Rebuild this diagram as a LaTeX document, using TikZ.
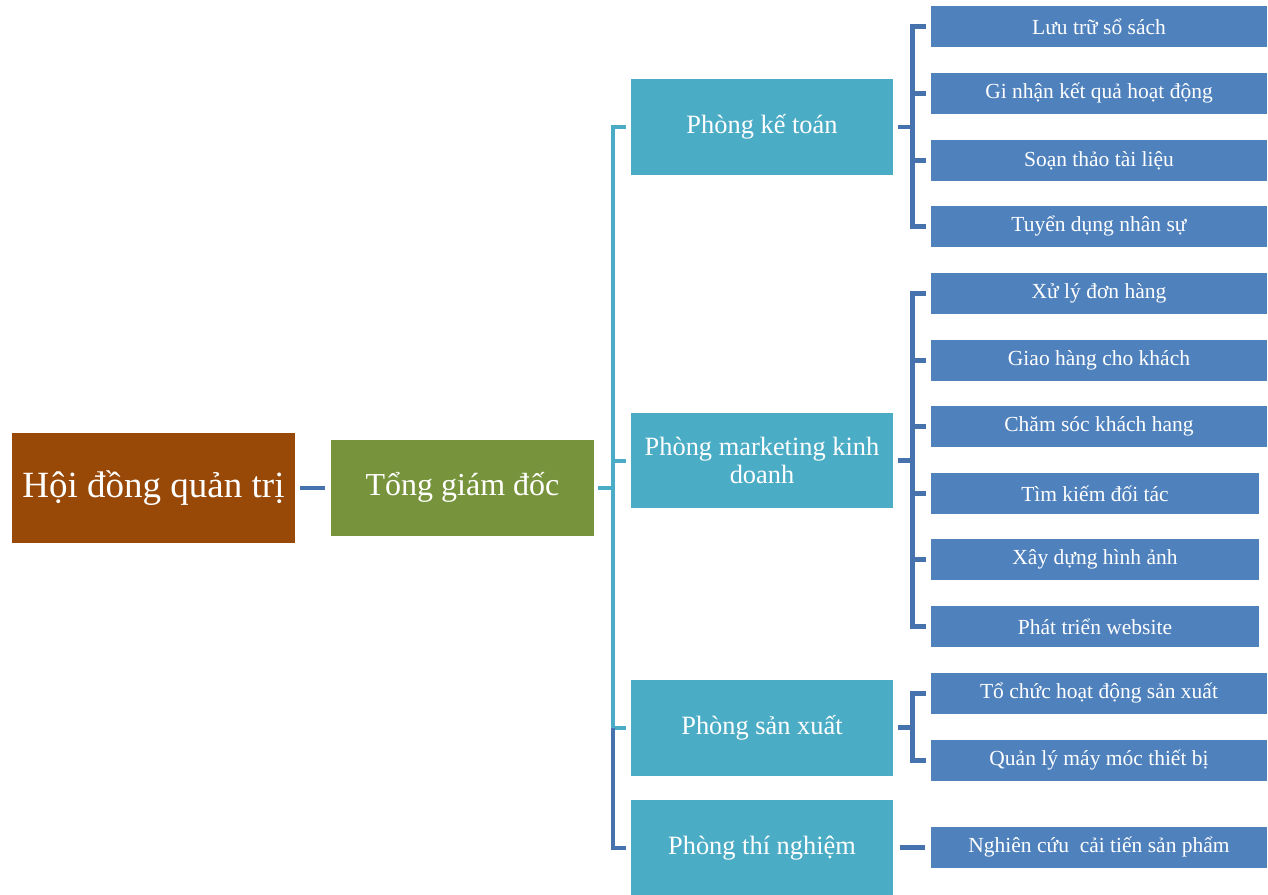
\documentclass[tikz,border=0pt]{standalone}
\usepackage{fontspec}
\setmainfont{Liberation Serif}
\definecolor{brownbox}{HTML}{984807}
\definecolor{greenbox}{HTML}{77933C}
\definecolor{tealbox}{HTML}{4BACC6}
\definecolor{bluebox}{HTML}{4F81BD}
\definecolor{blueline}{HTML}{4672AE}
\tikzset{
  box/.style={rectangle, inner sep=0pt, text=white, align=center},
  topbox/.style={box, fill=brownbox, minimum width=283pt, minimum height=110pt, font=\fontsize{37}{40}\selectfont},
  ceobox/.style={box, fill=greenbox, minimum width=263pt, minimum height=96pt, font=\fontsize{32}{36}\selectfont},
  deptbox/.style={box, fill=tealbox, minimum width=262pt, minimum height=96pt, font=\fontsize{26.4}{28}\selectfont},
  taskbox/.style={box, fill=bluebox, minimum width=336pt, minimum height=41pt, font=\fontsize{21.5}{24}\selectfont},
  taskboxs/.style={taskbox, minimum width=328pt},
  bl/.style={draw=blueline, line width=4.5pt, line join=miter},
  tl/.style={draw=tealbox, line width=4pt, line join=miter}
}
\begin{document}
\begin{tikzpicture}[x=1pt,y=-1pt]
\useasboundingbox (0,0) rectangle (1268,894);
\fill[white] (0,0) rectangle (1268,894);

\node[topbox] (hdqt) at (153.5,488) {Hội đồng quản trị};
\node[ceobox] (tgd) at (462.5,487.5) {Tổng giám đốc};

\node[deptbox] (kt) at (762,127) {Phòng kế toán};
\node[deptbox, minimum height=95pt] (mk) at (762,460.5) {Phòng marketing kinh\\doanh};
\node[deptbox] (sx) at (762,727.5) {Phòng sản xuất};
\node[deptbox] (tn) at (762,848) {Phòng thí nghiệm};

\node[taskbox] (a1) at (1099,26.5) {Lưu trữ sổ sách};
\node[taskbox] (a2) at (1099,93.5) {Gi nhận kết quả hoạt động};
\node[taskbox] (a3) at (1099,160.5) {Soạn thảo tài liệu};
\node[taskbox] (a4) at (1099,226.5) {Tuyển dụng nhân sự};

\node[taskbox] (b1) at (1099,293.5) {Xử lý đơn hàng};
\node[taskbox] (b2) at (1099,360.5) {Giao hàng cho khách};
\node[taskbox] (b3) at (1099,426.5) {Chăm sóc khách hang};
\node[taskboxs] (b4) at (1095,493.5) {Tìm kiếm đối tác};
\node[taskboxs] (b5) at (1095,559.5) {Xây dựng hình ảnh};
\node[taskboxs] (b6) at (1095,626.5) {Phát triển website};

\node[taskbox] (c1) at (1099,693.5) {Tổ chức hoạt động sản xuất};
\node[taskbox] (c2) at (1099,760.5) {Quản lý máy móc thiết bị};

\node[taskbox] (d1) at (1099,847.5) {Nghiên cứu\ \ cải tiến sản phẩm};

\coordinate (sp) at (612.5,0);
\coordinate (br) at (912.5,0);

% board to CEO
\draw[bl] ([xshift=5pt]hdqt.east) -- ([xshift=-6pt]tgd.west |- hdqt.east);

% CEO to departments
\draw[tl] ([xshift=4pt]tgd.east) -- (sp |- tgd.east);
\draw[tl] ([xshift=-5pt]kt.west) -- (sp |- kt.west) -- (sp |- sx.west) -- ([xshift=-5pt]sx.west);
\draw[tl] (sp |- mk.west) -- ([xshift=-5pt]mk.west);
\draw[bl, line width=4pt] (sp |- sx.west) -- (sp |- tn.west) -- ([xshift=-5pt]tn.west);

% accounting
\draw[bl] ([xshift=5pt]kt.east) -- (br |- kt.east);
\draw[bl] ([xshift=-5pt]a1.west) -- (br |- a1.west) -- (br |- a4.west) -- ([xshift=-5pt]a4.west);
\draw[bl] (br |- a2.west) -- ([xshift=-5pt]a2.west);
\draw[bl] (br |- a3.west) -- ([xshift=-5pt]a3.west);

% marketing
\draw[bl] ([xshift=5pt]mk.east) -- (br |- mk.east);
\draw[bl] ([xshift=-5pt]b1.west) -- (br |- b1.west) -- (br |- b6.west) -- ([xshift=-5pt]b6.west);
\draw[bl] (br |- b2.west) -- ([xshift=-5pt]b2.west);
\draw[bl] (br |- b3.west) -- ([xshift=-5pt]b3.west);
\draw[bl] (br |- b4.west) -- ([xshift=-5pt]b4.west);
\draw[bl] (br |- b5.west) -- ([xshift=-5pt]b5.west);

% production
\draw[bl] ([xshift=5pt]sx.east) -- (br |- sx.east);
\draw[bl] ([xshift=-5pt]c1.west) -- (br |- c1.west) -- (br |- c2.west) -- ([xshift=-5pt]c2.west);

% lab
\draw[bl] ([xshift=7pt]tn.east |- d1.west) -- ([xshift=-6pt]d1.west);
\end{tikzpicture}
\end{document}
